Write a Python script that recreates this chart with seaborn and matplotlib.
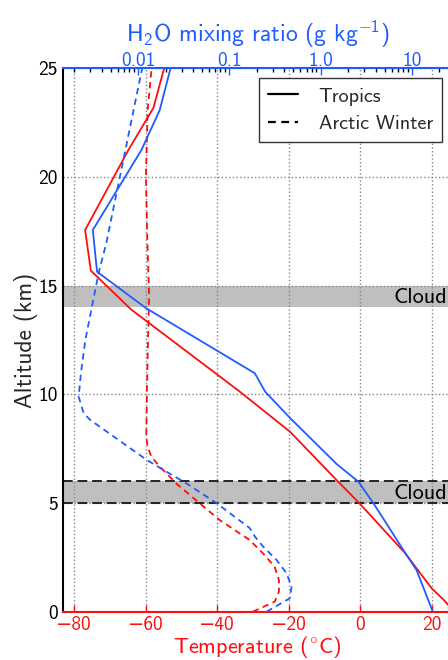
import numpy as np
import matplotlib
matplotlib.use('Agg')
import matplotlib.pyplot as plt
from matplotlib.ticker import NullFormatter, FixedLocator
from matplotlib.lines import Line2D
import seaborn as sns

# --- data ---
trop_temp_alt = [0, 0.54, 1.08, 2.71, 4.99, 6.06, 8.28, 10.12, 13.9, 15.69, 17.56, 21.24, 23.18, 25]
trop_temp = [26.3, 23.4, 20.0, 12.5, -0.2, -6.6, -19.6, -33.6, -64.0, -75.3, -76.9, -64.8, -57.8, -54.8]

arctic_temp_alt = [0, 0.46, 0.92, 1.46, 2.07, 2.69, 3.30, 4.22, 4.99, 5.9, 6.67, 7.13, 7.6,
                   8.05, 10.2, 12.5, 14.5, 17.1, 20.0, 23.1, 25]
arctic_temp = [-30.0, -23.9, -22.7, -22.7, -23.9, -27.2, -30.9, -39.3, -44.9, -51.4, -56.0, -58.4, -59.4,
               -59.8, -59.6, -59.3, -59.0, -59.5, -59.9, -59.4, -58.3]

trop_h2o_alt = [0, 1.92, 2.84, 4.99, 5.98, 6.79, 8.9, 10.12, 10.97, 13.96, 15.64, 17.56, 21.24, 23.08, 25]
trop_h2o = [16.9, 11.2, 8.04, 3.78, 2.59, 1.50, 0.465, 0.247, 0.19, 0.0123, 0.00356, 0.0032, 0.0109, 0.0173, 0.0227]

arctic_h2o_alt = [0, 0.62, 1.15, 1.77, 2.38, 2.99, 3.45, 3.84, 4.99, 5.9, 6.52, 6.98, 8.82, 9.13, 9.89,
                  10.97, 12.5, 14.03, 15.57, 16.95, 25]
arctic_h2o = [0.256, 0.46, 0.48, 0.423, 0.329, 0.235, 0.191, 0.168, 0.0727, 0.034, 0.019, 0.0125, 0.0030,
              0.00254, 0.00224, 0.00237, 0.00265, 0.00313, 0.0037, 0.00449, 0.0111]

cloud_layers = [(14, 15), (5, 6)]
temp_ticks = [-80, -60, -40, -20, 0, 20]
alt_ticks = [0, 5, 10, 15, 20, 25]
h2o_ticks = [0.01, 0.1, 1, 10]
h2o_ticklabels = ['0.01', '0.1', '1.0', '10']

RED = '#ff0d0d'
BLUE = '#1f5cff'

sns.set_style('white')
plt.rcParams['font.family'] = ['cmss10', 'DejaVu Sans']
plt.rcParams['mathtext.fontset'] = 'custom'
plt.rcParams['mathtext.rm'] = 'cmss10'
plt.rcParams['mathtext.it'] = 'cmss10'
plt.rcParams['mathtext.bf'] = 'cmss10'
plt.rcParams['axes.formatter.use_mathtext'] = False
plt.rcParams['axes.unicode_minus'] = True

fig = plt.figure(figsize=(4.48, 6.6), dpi=100)
ax = fig.add_axes([63.3 / 448, 48.3 / 660, (452 - 63.3) / 448, (611.7 - 68.3) / 660])
ax2 = ax.twiny()

dash = (0, (3.5, 2.5))

# temperature (bottom axis)
sns.lineplot(x=trop_temp, y=trop_temp_alt, sort=False, estimator=None, ax=ax,
             color=RED, linewidth=1.3)
sns.lineplot(x=arctic_temp, y=arctic_temp_alt, sort=False, estimator=None, ax=ax,
             color=RED, linewidth=1.3, linestyle=dash)

# clouds
for lo, hi in cloud_layers:
    ax.axhspan(lo, hi, color='#bfbfbf', zorder=0.5, lw=0)
    ax.text(24.3, (lo + hi) / 2 - 0.05, 'Cloud', ha='right', va='center', fontsize=16, color='k')
lo, hi = cloud_layers[1]
for y in (lo, hi):
    ax.axhline(y, color='#222222', lw=1.4, linestyle=(0, (5, 2.5)), zorder=1.2)

ax.set_xlim(-83.0, 25.7)
ax.set_ylim(0, 25)
ax.set_xticks(temp_ticks)
ax.set_xticklabels(['\u2212%d' % -t if t < 0 else '%d' % t for t in temp_ticks])
ax.set_yticks(alt_ticks)
ax.grid(True, linestyle=':', color='#888888', linewidth=1.0)
ax.set_xlabel('Temperature ($^{\\circ}$C)', color=RED, fontsize=16, labelpad=0)
ax.set_ylabel('Altitude (km)', fontsize=17, labelpad=0)
ax.tick_params(axis='x', colors=RED, direction='in', length=5, width=1, labelsize=14, pad=3)
ax.tick_params(axis='y', colors='k', direction='in', length=5, width=1, labelsize=14, pad=4)
ax.spines['bottom'].set_color(RED)
ax.spines['bottom'].set_linewidth(1.5)
ax.spines['left'].set_color('k')
ax.spines['left'].set_linewidth(1.5)
ax.spines['top'].set_visible(False)
ax.spines['right'].set_visible(False)

# H2O (top axis)
ax2.set_xscale('log')
sns.lineplot(x=trop_h2o, y=trop_h2o_alt, sort=False, estimator=None, ax=ax2,
             color=BLUE, linewidth=1.3)
sns.lineplot(x=arctic_h2o, y=arctic_h2o_alt, sort=False, estimator=None, ax=ax2,
             color=BLUE, linewidth=1.3, linestyle=dash)
ax2.set_xlim(10 ** -2.818, 10 ** 1.438)
ax2.xaxis.set_major_locator(FixedLocator(h2o_ticks))
ax2.set_xticklabels(h2o_ticklabels)
ax2.xaxis.set_minor_formatter(NullFormatter())
ax2.set_xlabel('H$_2$O mixing ratio (g kg$^{-1}$)', color=BLUE, fontsize=17, labelpad=7)
ax2.tick_params(axis='x', which='major', colors=BLUE, direction='in', length=5, width=1,
                labelsize=14, pad=-1)
ax2.tick_params(axis='x', which='minor', colors='k', direction='in', length=3, width=1)
ax2.spines['top'].set_color(BLUE)
ax2.spines['top'].set_linewidth(1.5)
ax2.spines['bottom'].set_visible(False)
ax2.spines['left'].set_visible(False)
ax2.spines['right'].set_visible(False)

handles = [Line2D([], [], color='k', lw=1.6),
           Line2D([], [], color='k', lw=1.6, linestyle=(0, (3.5, 2.5)))]
leg = ax2.legend(handles, ['Tropics', 'Arctic Winter'], loc='upper right', fontsize=14.5,
                 frameon=True, fancybox=False, framealpha=1, edgecolor='#333333',
                 handlelength=1.5, handletextpad=1.0, borderpad=0.45, labelspacing=0.45,
                 borderaxespad=0.5)
leg.get_frame().set_linewidth(1.0)

fig.savefig('out.png', dpi=100)
